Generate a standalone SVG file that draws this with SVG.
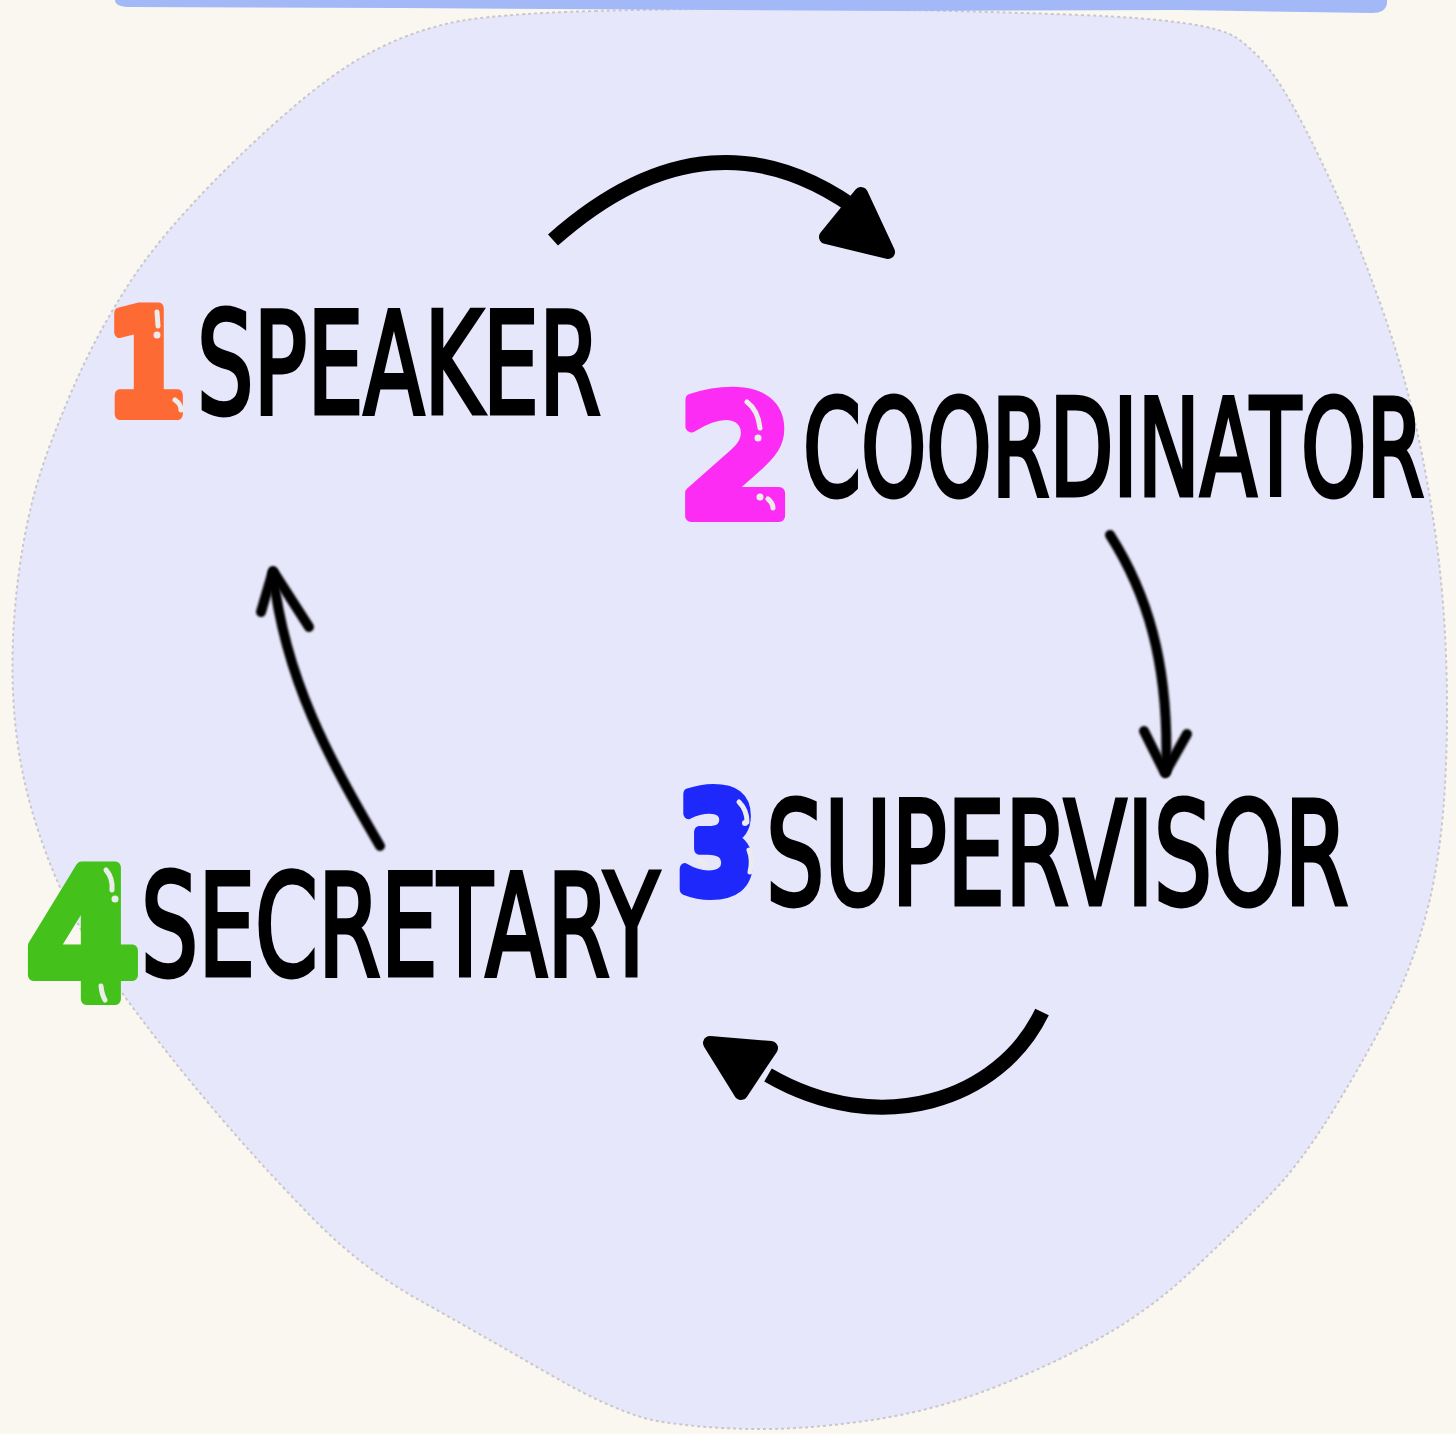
<svg xmlns="http://www.w3.org/2000/svg" width="1456" height="1434" viewBox="0 0 1456 1434">
  <defs>
    <style>
      .label { font-family: 'DejaVu Sans', 'Liberation Sans', sans-serif; font-weight: normal; fill: #000; stroke: #000; stroke-width: 4; stroke-linejoin: miter; }
      .digit { font-family: 'DejaVu Sans', 'Liberation Sans', sans-serif; font-weight: bold; stroke-linejoin: round; stroke-linecap: round; }
      .hl { fill: none; stroke: #ececec; stroke-linecap: round; stroke-width: 5; }
      .hld { fill: #ececec; }
      .thick { fill: none; stroke: #000; stroke-width: 15; stroke-linecap: butt; }
      .head { fill: #000; stroke: #000; stroke-width: 14; stroke-linejoin: round; }
      .rough { fill: none; stroke: #000; stroke-width: 10; stroke-linecap: round; stroke-linejoin: round; filter: url(#soft); }
    </style>
    <filter id="soft" x="-20%" y="-20%" width="140%" height="140%">
      <feGaussianBlur stdDeviation="1.1"/>
    </filter>
  </defs>

  <rect x="0" y="0" width="1456" height="1434" fill="#faf7f0"/>

  <g id="background-blob">
    <path d="M595,11 Q700,8 825,9 Q950,10 1080,15 Q1210,20 1236,37.5 Q1262,55 1283.5,90 Q1305,125 1333.5,187.5 Q1362,250 1386,320 Q1410,390 1425,470 Q1440,550 1444.5,625 Q1449,700 1445.5,775 Q1442,850 1428.5,905 Q1415,960 1392.5,1005 Q1370,1050 1335,1107.5 Q1300,1165 1266.5,1198.5 Q1233,1232 1191.5,1271 Q1150,1310 1100,1338 Q1050,1366 990,1389 Q930,1412 865,1421 Q800,1430 750,1429 Q700,1428 660,1421.5 Q620,1415 549,1374 Q478,1333 419,1300 Q360,1267 311.5,1217 Q263,1167 227,1125 Q191,1083 162.5,1046.5 Q134,1010 111,977.5 Q88,945 69,906.5 Q50,868 36,824 Q22,780 16.5,735 Q11,690 13,640 Q15,590 24,540 Q33,490 50,445 Q67,400 83.5,365 Q100,330 125,290 Q150,250 191.5,205 Q233,160 283,116 Q333,72 371.5,52 Q410,32 450,23 Q490,14 595,11 Z" fill="#e7e7fb" stroke="#c9c7cc" stroke-width="2" stroke-dasharray="3 3"/>
  </g>

  <g id="top-bar">
    <path d="M115,-5 H1387 V3 Q1386,13 1372,13 L1180,10 L900,11 L400,8 L130,7 Q115,7 115,0 Z" fill="#a3b8f7"/>
  </g>

  <g id="connectors">
    <g id="arrow-1-2">
      <path class="thick" d="M553,240 Q713,98 866,216"/>
      <polygon class="head" points="861,194 888,252 826,237"/>
    </g>
    <g id="arrow-2-3">
      <path class="rough" d="M1110,535 C1145,590 1170,660 1166,772"/>
      <path class="rough" d="M1144,731 L1165,773 L1187,734"/>
    </g>
    <g id="arrow-3-4">
      <path class="thick" d="M1042,1012 C1000,1100 880,1140 768,1075"/>
      <polygon class="head" points="710,1043 771,1048 741,1093"/>
    </g>
    <g id="arrow-4-1">
      <path class="rough" d="M380,846 C330,760 285,680 273,573"/>
      <path class="rough" d="M261,612 L273,571 L309,627"/>
    </g>
  </g>

  <g id="node-1-speaker">
    <text class="digit" x="106" y="414" font-size="145" textLength="80" lengthAdjust="spacingAndGlyphs" fill="#fe6a34" stroke="#fe6a34" stroke-width="12">1</text>
    <path class="hl" d="M157,312 L158,326"/>
    <circle class="hld" cx="157" cy="335" r="3.5"/>
    <path class="hl" d="M175,400 Q181,404 181,410"/>
    <text class="label" transform="translate(197,413) scale(0.636,1)" x="0" y="0" font-size="140" textLength="635" lengthAdjust="spacingAndGlyphs" vector-effect="non-scaling-stroke">SPEAKER</text>
  </g>

  <g id="node-2-coordinator">
    <text class="digit" x="678" y="516" font-size="166" fill="#fc2cf5" stroke="#fc2cf5" stroke-width="12">2</text>
    <path class="hl" d="M747,402 Q758,410 760,428"/>
    <circle class="hld" cx="758" cy="438" r="3.5"/>
    <circle class="hld" cx="760" cy="497" r="3.5"/>
    <path class="hl" d="M768,499 Q773,503 773,508"/>
    <text class="label" transform="translate(803,495) scale(0.618,1)" x="0" y="0" font-size="133" textLength="1005" lengthAdjust="spacingAndGlyphs" vector-effect="non-scaling-stroke">COORDINATOR</text>
  </g>

  <g id="node-3-supervisor">
    <text class="digit" x="677" y="892" font-size="138" textLength="80" lengthAdjust="spacingAndGlyphs" fill="#1e28fb" stroke="#1e28fb" stroke-width="12">3</text>
    <path class="hl" d="M739,802 Q747,810 747,822"/>
    <circle class="hld" cx="745" cy="823" r="3"/>
    <path class="hl" d="M749,850 Q753,860 750,872"/>
    <path class="hl" d="M699,860 L705,864"/>
    <text class="label" transform="translate(766,904) scale(0.6413,1)" x="0" y="0" font-size="142" textLength="908" lengthAdjust="spacingAndGlyphs" vector-effect="non-scaling-stroke">SUPERVISOR</text>
  </g>

  <g id="node-4-secretary">
    <text class="digit" x="26" y="999" font-size="180" textLength="114" lengthAdjust="spacingAndGlyphs" fill="#44c21b" stroke="#44c21b" stroke-width="12">4</text>
    <path class="hl" d="M106,870 Q113,878 112,890"/>
    <circle class="hld" cx="115" cy="899" r="3.5"/>
    <path class="hl" d="M101,986 Q102,995 105,1000"/>
    <text class="label" transform="translate(141,975) scale(0.628,1)" x="0" y="0" font-size="140" textLength="825" lengthAdjust="spacingAndGlyphs" vector-effect="non-scaling-stroke">SECRETARY</text>
  </g>
</svg>
